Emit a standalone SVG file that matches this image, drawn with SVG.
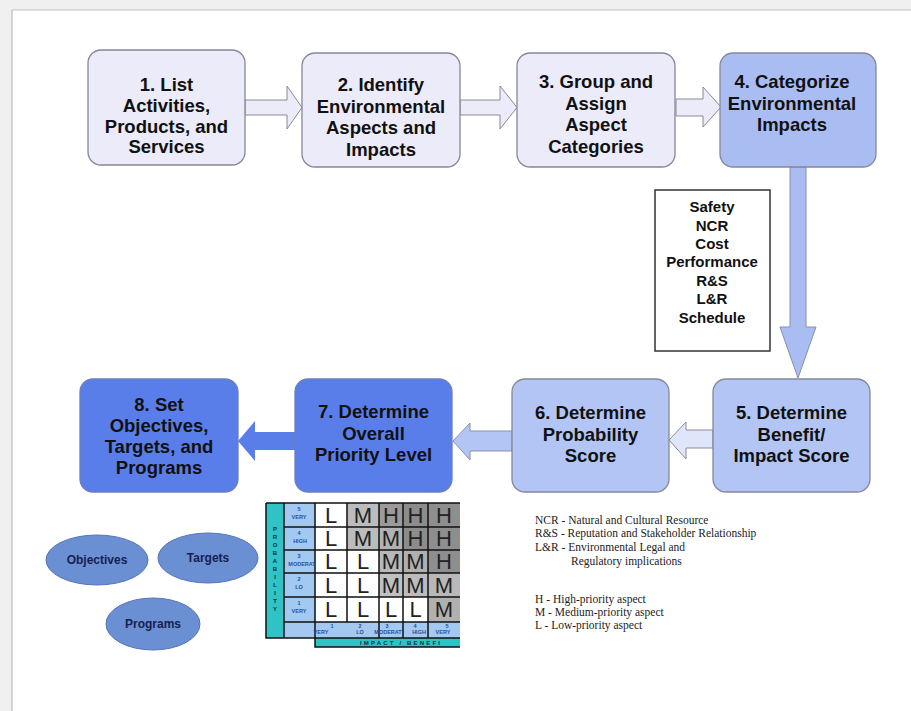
<svg xmlns="http://www.w3.org/2000/svg" width="911" height="711" viewBox="0 0 911 711">
<style>
.box{stroke:#85889a;stroke-width:1.3}
.lt{fill:#ebebf9}
.b4{fill:#a9bdf3}
.b5{fill:#b3c5f4}
.dk{fill:#5a7ee9;stroke:#6a7fc0}
.t{font-family:"Liberation Sans",Arial,sans-serif;font-weight:bold;font-size:18.5px;fill:#111;text-anchor:middle}
.s{font-family:"Liberation Sans",Arial,sans-serif;font-weight:bold;font-size:15px;fill:#111;text-anchor:middle}
.lg{font-family:"Liberation Serif","Times New Roman",serif;font-size:11.5px;fill:#222}
.cell{font-family:"Liberation Sans",Arial,sans-serif;font-size:22px;fill:#222;text-anchor:middle}
.sm{font-family:"Liberation Sans",Arial,sans-serif;font-weight:bold;font-size:5.5px;fill:#2b4ea0;text-anchor:middle}
.ax{font-family:"Liberation Sans",Arial,sans-serif;font-weight:bold;font-size:6px;fill:#1a2a40;text-anchor:middle}
.el{fill:#6a8fd2;stroke:#5775b5;stroke-width:1}
.et{font-family:"Liberation Sans",Arial,sans-serif;font-weight:bold;font-size:12px;fill:#182050;text-anchor:middle}
.gl{stroke:#111;stroke-width:1.5;fill:none}
</style>
<rect x="0" y="0" width="911" height="711" fill="#f0f0f0"/>
<rect x="12" y="10" width="899" height="701" fill="#ffffff"/>
<line x1="12" y1="10" x2="911" y2="10" stroke="#d4d4d4" stroke-width="1.5"/>
<line x1="12" y1="10" x2="12" y2="711" stroke="#c8c8c8" stroke-width="1.5"/>

<g id="connectors">
  <polygon points="245,100 287,100 287,86 302,107.5 287,129 287,115 245,115" fill="#ebebf9" stroke="#8a8a96" stroke-width="1"/>
  <polygon points="460,100 500,100 500,86 517,107.5 500,129 500,115 460,115" fill="#ebebf9" stroke="#8a8a96" stroke-width="1"/>
  <polygon points="676,99 703,99 703,87 721,107 703,127 703,116 676,116" fill="#ebebf9" stroke="#8a8a96" stroke-width="1"/>
  <polygon points="790,167 806,167 806,327 816,327 798,378 780,327 790,327" fill="#a9bdf3" stroke="#8a8fa6" stroke-width="1"/>
  <polygon points="713,430 686,430 686,422 669,440 686,459 686,448 713,448" fill="#dfe6fb" stroke="#8a8a96" stroke-width="1"/>
  <polygon points="512,431 470,431 470,423 453,441 470,460 470,451 512,451" fill="#b3c5f4" stroke="#8a90a8" stroke-width="1"/>
  <polygon points="295,432 255,432 255,421 238,441 255,461 255,450 295,450" fill="#5a7ee9"/>
</g>

<g id="n1"><rect class="box lt" x="88" y="50" width="157" height="115" rx="13"/>
<text class="t" x="166.5" y="91">1. List</text><text class="t" x="166.5" y="112">Activities,</text><text class="t" x="166.5" y="132.5">Products, and</text><text class="t" x="166.5" y="153">Services</text></g>
<g id="n2"><rect class="box lt" x="302" y="53" width="158" height="114" rx="13"/>
<text class="t" x="381" y="91">2. Identify</text><text class="t" x="381" y="112.5">Environmental</text><text class="t" x="381" y="134">Aspects and</text><text class="t" x="381" y="155.5">Impacts</text></g>
<g id="n3"><rect class="box lt" x="517" y="53" width="158" height="114" rx="13"/>
<text class="t" x="596" y="88">3. Group and</text><text class="t" x="596" y="109.5">Assign</text><text class="t" x="596" y="131">Aspect</text><text class="t" x="596" y="152.5">Categories</text></g>
<g id="n4"><rect class="box b4" x="720" y="53" width="156" height="114" rx="13"/>
<text class="t" x="792" y="88">4. Categorize</text><text class="t" x="792" y="109.5">Environmental</text><text class="t" x="792" y="131">Impacts</text></g>

<g id="categories"><rect x="655" y="190" width="115" height="161" fill="#fff" stroke="#333" stroke-width="1.5"/>
<text class="s" x="712" y="212">Safety</text><text class="s" x="712" y="230.5">NCR</text><text class="s" x="712" y="249">Cost</text><text class="s" x="712" y="267">Performance</text><text class="s" x="712" y="285.5">R&amp;S</text><text class="s" x="712" y="304">L&amp;R</text><text class="s" x="712" y="322.5">Schedule</text></g>

<g id="n5"><rect class="box b5" x="713" y="379" width="157" height="113" rx="13"/>
<text class="t" x="791.5" y="419">5. Determine</text><text class="t" x="791.5" y="440.5">Benefit/</text><text class="t" x="791.5" y="462">Impact Score</text></g>
<g id="n6"><rect class="box b5" x="512" y="379" width="157" height="113" rx="13"/>
<text class="t" x="590.5" y="419">6. Determine</text><text class="t" x="590.5" y="440.5">Probability</text><text class="t" x="590.5" y="462">Score</text></g>
<g id="n7"><rect class="box dk" x="295" y="379" width="157" height="113" rx="13"/>
<text class="t" x="373.5" y="418">7. Determine</text><text class="t" x="373.5" y="439.5">Overall</text><text class="t" x="373.5" y="461">Priority Level</text></g>
<g id="n8"><rect class="box dk" x="80" y="379" width="158" height="113" rx="13"/>
<text class="t" x="159" y="411">8. Set</text><text class="t" x="159" y="432">Objectives,</text><text class="t" x="159" y="453">Targets, and</text><text class="t" x="159" y="474">Programs</text></g>

<g id="objectives"><ellipse class="el" cx="97" cy="560" rx="51" ry="25"/><text class="et" x="97" y="564">Objectives</text></g>
<g id="targets"><ellipse class="el" cx="208" cy="558" rx="50" ry="25"/><text class="et" x="208" y="562">Targets</text></g>
<g id="programs"><ellipse class="el" cx="153" cy="624" rx="47" ry="26"/><text class="et" x="153" y="628">Programs</text></g>

<g id="matrix">
  <rect x="266" y="503" width="18" height="135" fill="#2fc3c6"/>
  <rect x="284" y="503" width="31" height="119" fill="#a3c9f1"/>
  <rect x="284" y="622" width="176" height="16" fill="#a3c9f1"/>
  <rect x="315" y="638" width="145" height="9" fill="#2fc3c6"/>
  <rect x="315" y="503" width="32" height="24" fill="#fff"/>
  <rect x="347" y="503" width="32" height="24" fill="#bcbcbc"/>
  <rect x="379" y="503" width="24" height="24" fill="#9a9a9a"/>
  <rect x="403" y="503" width="25" height="24" fill="#8c8c8c"/>
  <rect x="428" y="503" width="32" height="24" fill="#8e8e8e"/>
  <rect x="315" y="527" width="32" height="23" fill="#fff"/>
  <rect x="347" y="527" width="32" height="23" fill="#bcbcbc"/>
  <rect x="379" y="527" width="24" height="23" fill="#b2b2b2"/>
  <rect x="403" y="527" width="25" height="23" fill="#8c8c8c"/>
  <rect x="428" y="527" width="32" height="23" fill="#8e8e8e"/>
  <rect x="315" y="550" width="32" height="23" fill="#fff"/>
  <rect x="347" y="550" width="32" height="23" fill="#fff"/>
  <rect x="379" y="550" width="24" height="23" fill="#b8b8b8"/>
  <rect x="403" y="550" width="25" height="23" fill="#b0b0b0"/>
  <rect x="428" y="550" width="32" height="23" fill="#8e8e8e"/>
  <rect x="315" y="573" width="32" height="24" fill="#fff"/>
  <rect x="347" y="573" width="32" height="24" fill="#fff"/>
  <rect x="379" y="573" width="24" height="24" fill="#c0c0c0"/>
  <rect x="403" y="573" width="25" height="24" fill="#bcbcbc"/>
  <rect x="428" y="573" width="32" height="24" fill="#b8b8b8"/>
  <rect x="315" y="597" width="32" height="25" fill="#fff"/>
  <rect x="347" y="597" width="32" height="25" fill="#fff"/>
  <rect x="379" y="597" width="24" height="25" fill="#fff"/>
  <rect x="403" y="597" width="25" height="25" fill="#fff"/>
  <rect x="428" y="597" width="32" height="25" fill="#b0b0b0"/>
  <path class="gl" d="M266,503 H460 M266,503 V638 H315 M284,503 V638 M315,503 V647 H460 M284,527 H460 M284,550 H460 M284,573 H460 M284,597 H460 M284,622 H460 M315,638 H460 M347,503 V622 M379,503 V638 M403,503 V638 M428,503 V638"/>
  <g class="cell">
    <text x="331" y="523">L</text><text x="363" y="523">M</text><text x="391" y="523">H</text><text x="415.5" y="523">H</text><text x="444" y="523">H</text>
    <text x="331" y="546">L</text><text x="363" y="546">M</text><text x="391" y="546">M</text><text x="415.5" y="546">H</text><text x="444" y="546">H</text>
    <text x="331" y="569">L</text><text x="363" y="569">L</text><text x="391" y="569">M</text><text x="415.5" y="569">M</text><text x="444" y="569">H</text>
    <text x="331" y="593">L</text><text x="363" y="593">L</text><text x="391" y="593">M</text><text x="415.5" y="593">M</text><text x="444" y="593">M</text>
    <text x="331" y="617">L</text><text x="363" y="617">L</text><text x="391" y="617">L</text><text x="415.5" y="617">L</text><text x="444" y="617">M</text>
  </g>
  <g class="sm">
    <text x="299" y="511">5</text><text x="299" y="519">VERY</text>
    <text x="299" y="535">4</text><text x="300" y="543">HIGH</text>
    <text x="299" y="558">3</text><text x="302" y="566">MODERAT</text>
    <text x="299" y="581">2</text><text x="299" y="589">LO</text>
    <text x="299" y="605">1</text><text x="299" y="613">VERY</text>
    <text x="332" y="628">1</text><text x="321" y="634">VERY</text>
    <text x="360" y="628">2</text><text x="360" y="634">LO</text>
    <text x="387" y="628">3</text><text x="388" y="634">MODERAT</text>
    <text x="415" y="628">4</text><text x="419" y="634">HIGH</text>
    <text x="447" y="628">5</text><text x="443" y="634">VERY</text>
  </g>
  <g class="ax">
    <text x="275" y="531">P</text><text x="275" y="539">R</text><text x="275" y="547">O</text><text x="275" y="555">B</text><text x="275" y="563">A</text><text x="275" y="571">B</text><text x="275" y="579">I</text><text x="275" y="587">L</text><text x="275" y="595">I</text><text x="275" y="603">T</text><text x="275" y="611">Y</text>
    <text x="400" y="645" textLength="80" lengthAdjust="spacing">IMPACT / BENEFI</text>
  </g>
</g>

<g id="legend" class="lg">
  <text x="535" y="524">NCR - Natural and Cultural Resource</text>
  <text x="535" y="537">R&amp;S - Reputation and Stakeholder Relationship</text>
  <text x="535" y="551">L&amp;R - Environmental Legal and</text>
  <text x="571" y="565">Regulatory implications</text>
  <text x="535" y="603">H - High-priority aspect</text>
  <text x="535" y="616">M - Medium-priority aspect</text>
  <text x="535" y="629">L - Low-priority aspect</text>
</g>
</svg>
